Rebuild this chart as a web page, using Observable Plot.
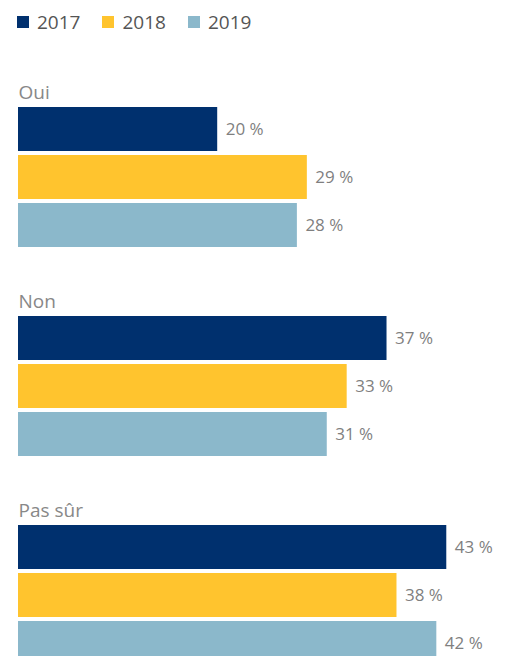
<!DOCTYPE html>
<html>
<head>
<meta charset="utf-8">
<script src="https://cdn.jsdelivr.net/npm/d3@7"></script>
<script src="https://cdn.jsdelivr.net/npm/@observablehq/plot@0.6"></script>
<style>
  html, body { margin: 0; padding: 0; background: #fff; overflow: hidden; height: 656px; }
  #legend { height: 40px; box-sizing: border-box; padding: 3px 0 0 17px; display: flex; align-items: center;
            font-family: "Open Sans", sans-serif; font-size: 19px; color: #555; }
  .item { display: flex; align-items: center; margin-right: 22px; }
  .sw { width: 12px; height: 12px; margin-right: 8px; }
  #chart svg { display: block; }
</style>
</head>
<body>
<div id="legend"></div>
<div id="chart"></div>
<script>
const categories = ["Oui", "Non", "Pas sûr"];
const years = ["2017", "2018", "2019"];
const values2017 = [20, 37, 43];
const values2018 = [29, 33, 38];
const values2019 = [28, 31, 42];
const colors = ["#00306e", "#ffc42e", "#8bb8cb"];

const series = [values2017, values2018, values2019];
const data = [];
categories.forEach((cat, i) => {
  years.forEach((yr, j) => data.push({cat, year: yr, value: series[j][i]}));
});

const legend = document.getElementById("legend");
years.forEach((yr, j) => {
  const it = document.createElement("div");
  it.className = "item";
  const sw = document.createElement("span");
  sw.className = "sw";
  sw.style.background = colors[j];
  const tx = document.createElement("span");
  tx.textContent = yr;
  it.appendChild(sw); it.appendChild(tx);
  legend.appendChild(it);
});

const chart = Plot.plot({
  width: 511,
  height: 625,
  marginTop: 67,
  marginBottom: 0,
  marginLeft: 18,
  marginRight: 0,
  style: {fontFamily: "Open Sans, sans-serif", background: "transparent"},
  x: {domain: [0, 50], range: [18, 516], axis: null},
  y: {domain: years, paddingInner: 4 / 48, paddingOuter: 0, axis: null},
  fy: {domain: categories, paddingInner: 69 / 209, paddingOuter: 0, axis: null},
  color: {domain: years, range: colors},
  marks: [
    Plot.barX(data, {x: "value", y: "year", fy: "cat", fill: "year"}),
    Plot.text(data, {x: "value", y: "year", fy: "cat", text: d => d.value + " %",
      textAnchor: "start", dx: 8, fill: "#7f7f7f", fontSize: 17}),
    Plot.text(categories, {fy: d => d, y: () => years[0], text: d => d, frameAnchor: "left",
      textAnchor: "start", lineAnchor: "bottom", dy: -31, fill: "#888", fontSize: 19})
  ]
});
document.getElementById("chart").appendChild(chart);
</script>
</body>
</html>
